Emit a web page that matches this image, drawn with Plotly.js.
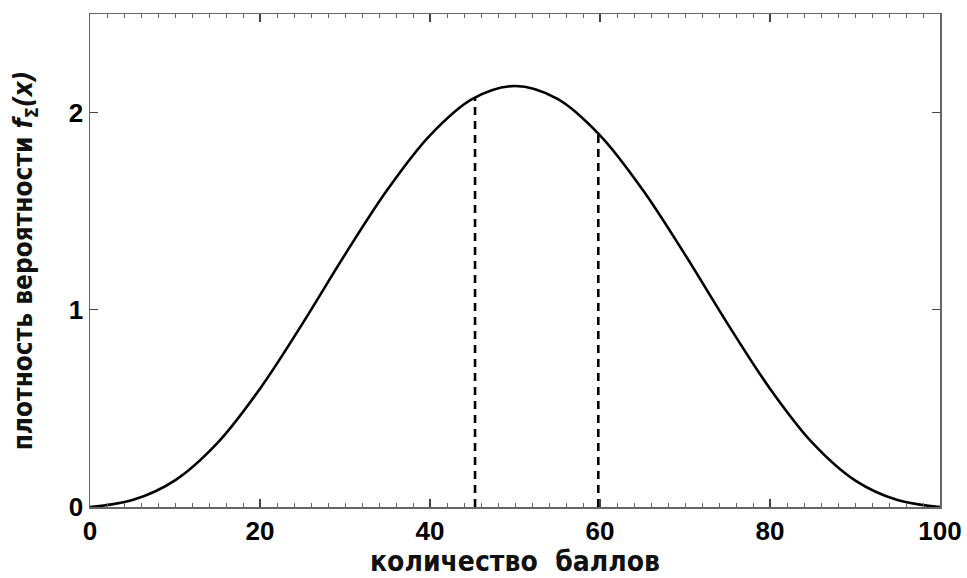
<!DOCTYPE html>
<html>
<head>
<meta charset="utf-8">
<script src="https://cdn.plot.ly/plotly-3.0.1.min.js"></script>
<style>html,body{margin:0;padding:0;background:#fff;}#chart{width:967px;height:578px;}</style>
</head>
<body>
<div id="chart"></div>
<script>
// density curve
const scoreX = [0, 5, 10, 15, 20, 25, 30, 35, 40, 45, 50, 55, 60, 65, 70, 75, 80, 85, 90, 95, 100];
const densityY = [0, 0.035, 0.135, 0.325, 0.60, 0.93, 1.28, 1.61, 1.885, 2.07, 2.135, 2.07, 1.885, 1.61, 1.28, 0.93, 0.60, 0.325, 0.135, 0.035, 0];
// vertical dashed markers
const markX = [45.3, 59.8];
const markTop = [2.075, 1.89];
const xTicks = [0, 20, 40, 60, 80, 100];
const yTicks = [0, 1, 2];

const traces = [{
  x: scoreX, y: densityY, type: 'scatter', mode: 'lines',
  line: {color: '#000', width: 2.6, shape: 'spline', smoothing: 1},
  hoverinfo: 'skip'
}];
markX.forEach((mx, i) => {
  traces.push({
    x: [mx, mx], y: [0, markTop[i]], type: 'scatter', mode: 'lines',
    line: {color: '#000', width: 2.6, dash: '8px,6px'}, hoverinfo: 'skip'
  });
});

const tickFont = {family: 'Liberation Sans, Arial, sans-serif', size: 26, color: '#000', weight: 'bold'};
const xTitleFont = {family: 'Liberation Sans Narrow, DejaVu Sans Condensed, Arial Narrow, sans-serif', size: 28, color: '#111', weight: 'bold'};
const yTitleFont = {family: 'Liberation Sans Narrow, DejaVu Sans Condensed, Arial Narrow, sans-serif', size: 26, color: '#111', weight: 'bold'};

const layout = {
  width: 967, height: 578,
  margin: {l: 90, r: 27, t: 14, b: 71},
  showlegend: false,
  paper_bgcolor: '#fff', plot_bgcolor: '#fff',
  xaxis: {
    range: [0, 100], tickvals: xTicks, ticktext: xTicks.map(String),
    ticks: 'inside', ticklen: 8, tickwidth: 1.2, tickcolor: '#444',
    minor: {dtick: 2, ticks: 'inside', ticklen: 4, tickwidth: 1, tickcolor: '#666'},
    showline: true, linecolor: '#666', linewidth: 1.5, mirror: 'allticks',
    showgrid: false, zeroline: false,
    tickfont: tickFont,
    title: {text: 'количество  баллов', font: xTitleFont, standoff: 2}
  },
  yaxis: {
    range: [0, 2.5], tickvals: yTicks, ticktext: yTicks.map(String),
    ticks: 'inside', ticklen: 8, tickwidth: 1.2, tickcolor: '#444',
    showline: true, linecolor: '#666', linewidth: 1.5, mirror: 'allticks',
    showgrid: false, zeroline: false,
    tickfont: tickFont,
    title: {text: 'плотность вероятности <i>f</i><sub>Σ</sub><i>(x)</i>', font: yTitleFont, standoff: 28}
  }
};

Plotly.newPlot('chart', traces, layout, {staticPlot: true, displayModeBar: false});
</script>
</body>
</html>
